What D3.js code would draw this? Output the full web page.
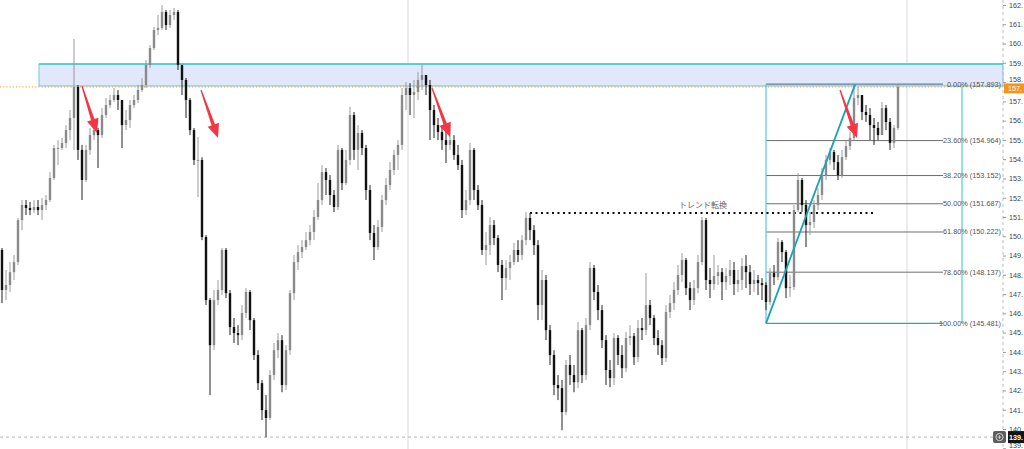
<!DOCTYPE html>
<html><head><meta charset="utf-8">
<script src="https://cdn.jsdelivr.net/npm/d3@7"></script>
<style>html,body{margin:0;padding:0;background:#fff;overflow:hidden}</style>
</head><body>
<svg id="c" width="1024" height="449"></svg>
<script>
// ---------- data ----------
const firstOpen = 149.29;
const closes = [
147.21,147.47,148.14,148.66,150.84,151.62,151.47,151.36,151.52,151.36,
151.62,151.88,153.02,154.58,154.58,154.84,155.51,156.14,157.75,154.48,
152.92,154.48,155.25,155.51,155.25,156.29,156.81,157.07,157.33,157.07,
155.77,156.03,156.81,157.07,157.59,157.85,158.89,159.77,160.70,160.81,
161.64,160.96,161.48,161.64,158.89,158.11,157.07,155.51,153.96,153.96,
149.96,146.69,144.35,146.69,147.21,149.29,147.05,145.29,144.98,144.87,
146.02,147.11,145.65,143.84,142.38,140.98,140.57,142.80,144.09,144.61,
142.28,144.09,147.05,148.66,149.18,149.44,149.80,150.22,151.00,151.88,
153.33,152.92,152.14,151.52,154.48,152.76,153.96,156.29,154.48,155.36,
154.58,152.40,150.17,149.44,150.48,151.88,152.66,153.44,154.22,154.74,
157.33,157.69,157.33,157.49,158.11,158.37,157.85,156.55,155.77,155.41,
154.99,154.74,154.99,154.22,153.70,151.36,151.88,154.48,152.40,151.62,
149.29,149.54,150.58,149.91,148.51,147.83,148.35,148.66,149.29,149.03,
149.80,150.95,150.32,149.54,146.43,147.73,145.13,143.84,142.28,142.12,
140.88,143.32,142.80,142.43,145.13,142.80,145.39,148.35,147.11,146.17,
144.61,143.06,142.64,144.72,143.84,143.16,144.72,144.82,143.73,145.24,
145.13,146.43,145.76,144.72,144.35,143.68,146.07,146.53,147.21,147.99,
148.77,147.31,146.69,147.31,148.66,150.84,147.73,147.52,147.94,148.14,
147.62,147.94,148.25,147.52,147.73,148.45,148.14,147.52,147.73,147.57,
147.47,146.59,148.09,147.88,149.70,149.18,147.31,147.37,151.36,152.92,
151.62,150.58,150.74,151.62,152.14,153.18,153.96,154.37,153.85,153.18,
154.11,154.68,155.10,157.17,157.33,156.45,156.29,155.77,155.62,155.25,
156.65,155.93,154.84,155.62,157.75];
const highs = [
149.39,148.25,148.66,149.03,150.95,151.88,151.88,151.78,151.88,151.88,
151.98,152.14,153.33,154.74,154.99,155.10,155.77,156.55,160.24,157.85,
154.74,154.74,155.62,155.93,155.62,156.65,157.17,157.33,157.69,157.59,
157.07,156.55,157.07,157.33,157.85,158.21,159.15,159.92,160.86,161.48,
162.00,161.74,161.74,161.85,161.74,158.89,158.21,157.17,155.62,155.15,
154.10,150.06,146.79,147.21,147.73,149.39,149.39,147.21,145.76,145.39,
146.43,147.31,147.21,145.76,144.09,142.54,141.76,143.06,144.46,144.98,
144.87,144.35,147.21,149.03,149.54,149.80,150.22,150.58,151.36,152.76,
153.70,153.54,153.18,152.40,154.74,154.58,154.48,156.71,156.45,155.77,
155.51,154.74,152.66,150.58,150.84,152.14,153.02,153.85,154.48,154.99,
157.69,158.00,157.95,158.11,158.52,158.89,158.37,158.11,156.81,156.14,
155.77,155.51,155.77,155.25,154.74,153.96,152.40,154.84,154.58,152.66,
151.88,150.22,151.00,150.84,150.06,148.77,148.77,149.03,149.65,149.80,
150.06,151.26,151.21,150.58,149.80,148.25,147.99,145.39,144.09,142.80,
142.54,143.58,143.84,143.32,145.55,145.24,145.76,148.66,148.51,147.47,
146.43,144.87,143.58,144.98,144.87,144.35,145.03,145.39,144.98,145.65,
145.76,148.09,146.69,145.91,145.13,144.61,146.43,146.95,147.62,148.51,
149.13,148.87,147.62,147.73,149.03,151.00,150.95,148.35,149.03,148.51,
148.35,148.35,148.77,148.66,148.25,148.87,149.03,148.51,148.25,147.99,
147.83,147.62,148.35,148.51,149.91,149.80,149.29,147.99,151.62,153.28,
153.02,151.88,151.26,151.88,152.50,153.54,154.22,154.58,154.48,154.22,
154.48,154.99,155.41,157.89,157.75,157.33,156.81,156.65,156.14,155.93,
156.97,156.81,156.14,155.77,157.85];
const lows = [
146.53,146.69,147.11,147.73,148.51,150.32,151.10,151.10,151.21,151.10,
150.84,151.36,151.78,152.92,153.70,154.48,154.58,154.99,154.48,153.96,
151.88,152.81,154.22,154.99,153.54,155.10,156.14,156.65,156.97,156.55,
154.58,155.51,155.62,156.65,156.91,157.49,157.69,158.73,159.66,160.44,
160.70,160.70,160.81,161.22,158.63,157.33,156.14,155.25,153.70,152.04,
149.80,146.43,141.76,144.09,146.43,146.95,146.79,144.87,144.46,144.35,
144.61,145.76,145.13,143.58,142.02,140.46,139.58,140.46,142.54,143.68,
141.91,142.02,143.84,146.69,148.25,148.87,149.29,149.54,149.80,150.84,
151.62,152.14,151.62,151.26,151.36,152.40,152.66,153.70,153.96,153.44,
154.22,151.88,149.80,148.77,149.29,150.22,151.62,152.40,153.18,153.44,
154.48,156.55,156.29,156.14,157.07,157.59,157.33,154.99,155.10,154.99,
154.48,153.80,154.48,153.96,153.44,150.95,151.10,151.62,151.88,151.36,
149.03,148.51,149.03,149.54,148.14,146.69,147.21,147.73,148.51,148.66,
148.77,149.54,149.80,149.03,145.65,145.65,144.61,143.32,141.76,141.50,
139.94,140.72,142.28,141.91,142.12,142.38,142.54,145.13,146.69,145.65,
144.20,142.28,142.17,142.28,143.32,142.64,142.95,144.35,143.32,143.47,
144.61,144.87,145.39,144.35,143.84,143.32,143.47,145.76,146.17,146.95,
147.62,146.95,146.17,146.43,147.05,148.51,147.21,146.79,147.21,147.47,
146.69,147.21,147.47,146.95,147.11,147.21,147.31,146.95,147.11,146.95,
146.69,146.17,146.43,147.47,147.73,148.66,146.79,146.85,147.21,151.26,
151.26,149.44,150.06,150.43,151.36,151.88,152.92,153.70,153.44,152.92,
153.02,153.96,154.48,154.99,156.81,156.03,155.93,154.99,154.74,154.99,
155.25,155.51,154.48,154.58,155.51];

const yTickValues = [139,140,141,142,143,144,145,146,147,148,149,150,151,152,153,154,155,156,157,158,159,160,161,162];
const fibHigh = 157.893, fibLow = 145.481;
const fibLevels = [0, 0.236, 0.382, 0.5, 0.618, 0.786, 1];
const fibStartIdx = 191, fibEndIdx = 240, fibLineEndIdx = 235.25;
const zoneTop = 158.94, zoneBottom = 157.80, zoneStartIdx = 9.25;
const trendLevel = 151.21, trendStartIdx = 132, trendEndIdx = 218.25, trendLabelIdx = 175.25;
const trendLabel = "トレンド転換";
const trendDiag = [{i:191, p:145.481},{i:213.3, p:157.893}];
const arrows = [
  {i1:20,   p1:157.80, i2:23.75, p2:155.36},
  {i1:49.75,p1:157.59, i2:54,    p2:155.10},
  {i1:107.5,p1:157.69, i2:112,   p2:155.15},
  {i1:209.5,p1:157.59, i2:213.75,p2:155.10}
];
const vLines = [101.5, 226.25];
const crossPrice = 139.58;
const lastPrice = closes[closes.length-1];

// ---------- scales ----------
const W = 1024, H = 449, axisX = 1003;
const x = d3.scaleLinear().domain([0, closes.length-1]).range([2, 898]);
const y = d3.scaleLinear().domain([162, 140]).range([5, 429]);
const svg = d3.select("#c");
const FONT = "'Liberation Sans', Arial, sans-serif";
// the price scale is only wide enough to show the integer part of each price
const clipFmt = v => Math.floor(v) + ".";

svg.append("rect").attr("width",W).attr("height",H).attr("fill","#fff");

// vertical light lines
svg.selectAll("line.v").data(vLines).enter().append("line")
  .attr("x1",d=>x(d)).attr("x2",d=>x(d)).attr("y1",0).attr("y2",H)
  .attr("stroke","#d9d9d9").attr("stroke-width",1);

// zone
svg.append("rect")
  .attr("x", x(zoneStartIdx)).attr("y", y(zoneTop))
  .attr("width", axisX - x(zoneStartIdx)).attr("height", y(zoneBottom)-y(zoneTop))
  .attr("fill","#e2e8fb").attr("stroke","#5fcfdc").attr("stroke-width",1);
svg.append("line").attr("x1",x(zoneStartIdx)).attr("x2",axisX)
  .attr("y1",y(zoneTop)).attr("y2",y(zoneTop)).attr("stroke","#3cc8d8").attr("stroke-width",1.6);

// crosshair horizontal dashed
svg.append("line").attr("x1",0).attr("x2",axisX).attr("y1",y(crossPrice)).attr("y2",y(crossPrice))
  .attr("stroke","#b5b5b5").attr("stroke-dasharray","3,3");

// price line
svg.append("line").attr("x1",0).attr("x2",axisX).attr("y1",y(lastPrice)).attr("y2",y(lastPrice))
  .attr("stroke","#f39a1f").attr("stroke-dasharray","1.2,2").attr("stroke-width",1);

// fib levels
const fibPrice = l => fibHigh - l*(fibHigh-fibLow);
const fg = svg.append("g");
fg.selectAll("line.lv").data(fibLevels).enter().append("line")
  .attr("x1",x(fibStartIdx)).attr("x2",x(fibLineEndIdx))
  .attr("y1",d=>y(fibPrice(d))).attr("y2",d=>y(fibPrice(d)))
  .attr("stroke",d=>d===0?"#607d9c":(d===1?"#2aa6b6":"#6e6e6e")).attr("stroke-width",d=>(d===0||d===1)?1.4:1);
[fibStartIdx, fibEndIdx].forEach(idx=>{
  fg.append("line").attr("x1",x(idx)).attr("x2",x(idx))
    .attr("y1",y(fibHigh)).attr("y2",y(fibLow)).attr("stroke","#52cbd9").attr("stroke-width",1.2);
});
fg.selectAll("text").data(fibLevels).enter().append("text")
  .attr("x", axisX-2).attr("y", d=>y(fibPrice(d)))
  .attr("text-anchor","end").attr("dominant-baseline","central")
  .attr("font-family",FONT).attr("font-size",7.3).attr("fill","#555")
  .text(d=>`${(d*100).toFixed(2)}% (${fibPrice(d).toFixed(3)})`);

// trend change dotted line + label
svg.append("line").attr("x1",x(trendStartIdx)).attr("x2",x(trendEndIdx))
  .attr("y1",y(trendLevel)).attr("y2",y(trendLevel))
  .attr("stroke","#111").attr("stroke-width",2).attr("stroke-dasharray","2,3.5");
svg.append("text").attr("x",x(trendLabelIdx)).attr("y",y(trendLevel)-5)
  .attr("text-anchor","middle").attr("font-family","'Noto Sans CJK JP', sans-serif")
  .attr("font-size",8).attr("fill","#666").text(trendLabel);

// candles
const cg = svg.append("g");
closes.forEach((c,i)=>{
  const o = i===0 ? firstOpen : closes[i-1];
  const h = Math.max(highs[i], o, c), l = Math.min(lows[i], o, c);
  const up = c >= o;
  const col = up ? "#8a8a8a" : "#111";
  const cx = x(i);
  cg.append("line").attr("x1",cx).attr("x2",cx).attr("y1",y(h)).attr("y2",y(l))
    .attr("stroke", up ? "#9a9a9a" : "#222").attr("stroke-width",1);
  const top = y(Math.max(o,c)), bot = y(Math.min(o,c));
  cg.append("rect").attr("x",cx-1.2).attr("width",2.4)
    .attr("y",top).attr("height",Math.max(1,bot-top)).attr("fill",col);
});

// diagonal trend line
svg.append("line").attr("x1",x(trendDiag[0].i)).attr("y1",y(trendDiag[0].p))
  .attr("x2",x(trendDiag[1].i)).attr("y2",y(trendDiag[1].p))
  .attr("stroke","#1aa3b5").attr("stroke-width",1.8);

// red arrows
function arrowPath(x1,y1,x2,y2){
  const dx=x2-x1, dy=y2-y1, L=Math.hypot(dx,dy), ux=dx/L, uy=dy/L, px=-uy, py=ux;
  const hl=14, hw=6, sw=1.8, tw=0.6;
  const bx=x2-ux*hl, by=y2-uy*hl;
  const pts=[[x1+px*tw,y1+py*tw],[bx+px*sw,by+py*sw],[bx+px*hw,by+py*hw],[x2,y2],
             [bx-px*hw,by-py*hw],[bx-px*sw,by-py*sw],[x1-px*tw,y1-py*tw]];
  return "M"+pts.map(p=>p.join(",")).join("L")+"Z";
}
svg.selectAll("path.arrow").data(arrows).enter().append("path")
  .attr("d",d=>arrowPath(x(d.i1),y(d.p1),x(d.i2),y(d.p2)))
  .attr("fill","#f23645");

// right axis
svg.append("line").attr("x1",axisX).attr("x2",axisX).attr("y1",0).attr("y2",H)
  .attr("stroke","#bdbdbd").attr("stroke-dasharray","3,3");
const ag = svg.append("g").attr("transform",`translate(${axisX},0)`)
  .call(d3.axisRight(y).tickValues(yTickValues).tickFormat(clipFmt).tickSize(3).tickPadding(3));
ag.select(".domain").remove();
ag.selectAll(".tick line").attr("stroke","#999");
ag.selectAll(".tick text").attr("font-family",FONT).attr("font-size",7.2).attr("fill","#444");
// hide tick labels that sit under the last-price label
ag.selectAll(".tick").filter(d=>Math.abs(y(d)-y(lastPrice))<9 && d<lastPrice).select("text").attr("opacity",0);
ag.selectAll(".tick").filter(d=>Math.abs(y(d)-y(lastPrice))<9 && d>lastPrice).select("text").attr("dy","-0.15em");
ag.selectAll(".tick").filter(d=>d===139).select("text").attr("dy","-0.05em");

// last price label
const ly = y(lastPrice)+1.5;
svg.append("rect").attr("x",axisX+1).attr("y",ly-5).attr("width",W-axisX).attr("height",10).attr("fill","#f7941d");
svg.append("text").attr("x",axisX+5).attr("y",ly).attr("dominant-baseline","central")
  .attr("font-family",FONT).attr("font-size",7.2).attr("fill","#fff").text(clipFmt(lastPrice));

// crosshair label
const cy = y(crossPrice);
svg.append("rect").attr("x",993).attr("y",cy-6).attr("width",13).attr("height",12).attr("rx",2).attr("fill","#5d5d5d");
svg.append("circle").attr("cx",999.5).attr("cy",cy).attr("r",3.6).attr("fill","none").attr("stroke","#ddd").attr("stroke-width",0.9);
svg.append("path").attr("d",`M997.7,${cy}H1001.3M999.5,${cy-1.8}V${cy+1.8}`).attr("stroke","#ddd").attr("stroke-width",0.8);
svg.append("rect").attr("x",1008).attr("y",cy-6).attr("width",W-1008).attr("height",12).attr("fill","#131313");
svg.append("text").attr("x",1009).attr("y",cy).attr("dominant-baseline","central")
  .attr("font-family",FONT).attr("font-size",7.2).attr("font-weight","bold").attr("fill","#fff").text(clipFmt(crossPrice));
</script>
</body></html>
